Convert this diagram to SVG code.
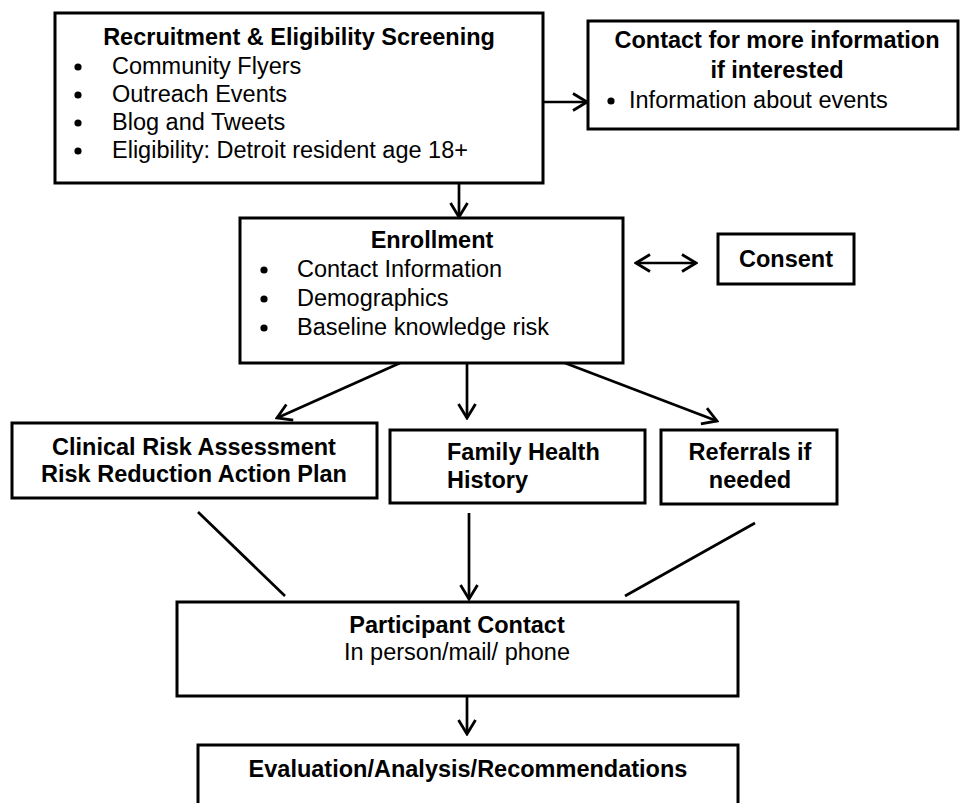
<svg xmlns="http://www.w3.org/2000/svg" width="962" height="803" viewBox="0 0 962 803">
<defs>
<marker id="arr" markerUnits="userSpaceOnUse" markerWidth="18" markerHeight="20" viewBox="0 0 18 20" refX="16" refY="10" orient="auto-start-reverse">
<path d="M2,1.5 L16,10 L2,18.5" fill="none" stroke="#000" stroke-width="2.8" stroke-linejoin="miter"/>
</marker>
<style>
.box{fill:#fff;stroke:#000;stroke-width:3}
.t{font-family:"Liberation Sans",Arial,sans-serif;font-size:23.5px;fill:#000}
.b{font-weight:bold}
.c{text-anchor:middle}
.ln{stroke:#000;stroke-width:2.7;fill:none}
.dot{fill:#000}
</style>
</defs>
<rect width="962" height="803" fill="#fff"/>
<g id="connectors">
<line class="ln" x1="543" y1="102" x2="587" y2="102" marker-end="url(#arr)"/>
<line class="ln" x1="459" y1="183" x2="459" y2="217" marker-end="url(#arr)"/>
<line class="ln" x1="636" y1="263" x2="696" y2="263" marker-start="url(#arr)" marker-end="url(#arr)"/>
<line class="ln" x1="400" y1="363" x2="277" y2="418" marker-end="url(#arr)"/>
<line class="ln" x1="467" y1="363" x2="467" y2="418" marker-end="url(#arr)"/>
<line class="ln" x1="565" y1="363" x2="717" y2="421" marker-end="url(#arr)"/>
<line class="ln" x1="198" y1="512" x2="285" y2="596"/>
<line class="ln" x1="469" y1="513" x2="469" y2="599" marker-end="url(#arr)"/>
<line class="ln" x1="755" y1="523" x2="625" y2="596"/>
<line class="ln" x1="467" y1="696" x2="467" y2="734" marker-end="url(#arr)"/>
</g>
<g id="recruitment">
<rect class="box" x="55" y="13" width="488" height="170"/>
<text class="t b c" x="299" y="45">Recruitment &amp; Eligibility Screening</text>
<circle class="dot" cx="78" cy="67" r="3.6"/>
<circle class="dot" cx="78" cy="95" r="3.6"/>
<circle class="dot" cx="78" cy="123" r="3.6"/>
<circle class="dot" cx="78" cy="151" r="3.6"/>
<text class="t" x="112" y="74">Community Flyers</text>
<text class="t" x="112" y="102">Outreach Events</text>
<text class="t" x="112" y="130">Blog and Tweets</text>
<text class="t" x="112" y="158">Eligibility: Detroit resident age 18+</text>
</g>
<g id="contact-info">
<rect class="box" x="588" y="21" width="370" height="108"/>
<text class="t b c" x="777" y="48">Contact for more information</text>
<text class="t b c" x="777" y="78">if interested</text>
<circle class="dot" cx="611" cy="101" r="3.6"/>
<text class="t" x="629" y="108">Information about events</text>
</g>
<g id="enrollment">
<rect class="box" x="240" y="218" width="383" height="145"/>
<text class="t b c" x="432" y="248">Enrollment</text>
<circle class="dot" cx="264" cy="270" r="3.6"/>
<circle class="dot" cx="264" cy="299" r="3.6"/>
<circle class="dot" cx="264" cy="328" r="3.6"/>
<text class="t" x="297" y="277">Contact Information</text>
<text class="t" x="297" y="306">Demographics</text>
<text class="t" x="297" y="335">Baseline knowledge risk</text>
</g>
<g id="consent">
<rect class="box" x="718" y="234" width="136" height="50"/>
<text class="t b c" x="786" y="267">Consent</text>
</g>
<g id="clinical">
<rect class="box" x="12" y="423" width="365" height="75"/>
<text class="t b c" x="194" y="455">Clinical Risk Assessment</text>
<text class="t b c" x="194" y="482">Risk Reduction Action Plan</text>
</g>
<g id="family">
<rect class="box" x="390" y="430" width="255" height="73"/>
<text class="t b" x="447" y="460">Family Health</text>
<text class="t b" x="447" y="488">History</text>
</g>
<g id="referrals">
<rect class="box" x="661" y="430" width="176" height="74"/>
<text class="t b c" x="750" y="460">Referrals if</text>
<text class="t b c" x="750" y="488">needed</text>
</g>
<g id="participant">
<rect class="box" x="177" y="602" width="561" height="94"/>
<text class="t b c" x="457" y="633">Participant Contact</text>
<text class="t c" x="457" y="660">In person/mail/ phone</text>
</g>
<g id="evaluation">
<rect class="box" x="198" y="745" width="540" height="80"/>
<text class="t b c" x="468" y="777">Evaluation/Analysis/Recommendations</text>
</g>
</svg>
